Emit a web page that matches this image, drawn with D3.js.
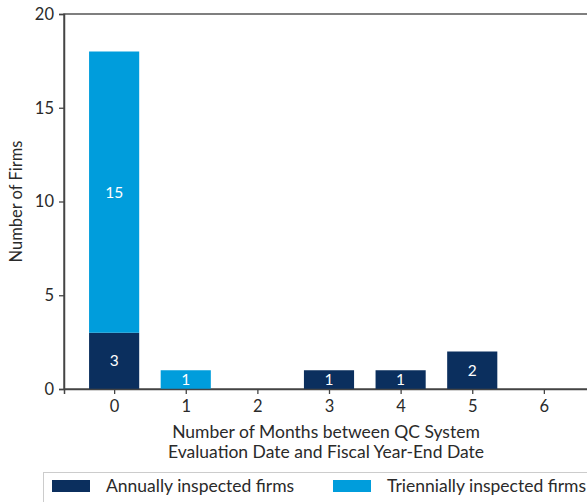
<!DOCTYPE html>
<html><head><meta charset="utf-8">
<script src="https://cdn.jsdelivr.net/npm/d3@7"></script>
<style>
body{margin:0;background:#fff;}
svg text{font-family:Lato,"Open Sans",sans-serif;fill:#2a2a2a;}
</style></head>
<body><svg id="c" width="587" height="502"></svg>
<script>
const months = [0,1,2,3,4,5,6];
const annually = [3,0,0,1,1,2,0];
const triennially = [15,1,0,0,0,0,0];
const yTicks = [0,5,10,15,20];
const seriesNames = ["Annually inspected firms","Triennially inspected firms"];
const colors = ["#0b2f5e","#009ddc"];

const svg = d3.select("#c");
const L=64,T=14,R=594,B=389;
const x = d3.scaleLinear().domain([-0.7,6.7]).range([L,R]);
const y = d3.scaleLinear().domain([0,20]).range([B,T]);
const bw = x(0.35)-x(-0.35);

const data = months.map((m,i)=>({m, a:annually[i], t:triennially[i]}));
const stack = d3.stack().keys(["a","t"])(data);

svg.append("rect").attr("x",L).attr("y",T).attr("width",R-L).attr("height",B-T)
  .attr("fill","none").attr("stroke","#555").attr("stroke-width",1.5);

stack.forEach((s,si)=>{
  svg.append("g").selectAll("rect").data(s.filter(d=>d[1]-d[0]>0)).join("rect")
    .attr("x",d=>x(d.data.m)-bw/2).attr("width",bw)
    .attr("y",d=>y(d[1])).attr("height",d=>y(d[0])-y(d[1]))
    .attr("fill",colors[si]);
  svg.append("g").selectAll("text").data(s.filter(d=>d[1]-d[0]>0)).join("text")
    .attr("x",d=>x(d.data.m)).attr("y",d=>(y(d[0])+y(d[1]))/2)
    .attr("dy","0.35em").attr("text-anchor","middle")
    .style("fill","#fff").style("font-size","15.5px")
    .text(d=>d[1]-d[0]);
});

const xa = svg.append("g").attr("transform",`translate(0,${B})`)
  .call(d3.axisBottom(x).tickValues(months).tickFormat(d3.format("d")).tickSize(5).tickPadding(6));
const ya = svg.append("g").attr("transform",`translate(${L},0)`)
  .call(d3.axisLeft(y).tickValues(yTicks).tickSize(5).tickPadding(5));
[xa,ya].forEach(a=>{
  a.select(".domain").attr("stroke","#444").attr("stroke-width",1.5);
  a.selectAll(".tick line").attr("stroke","#444").attr("stroke-width",1.3);
  a.selectAll(".tick text").style("font-size","16.5px").style("fill","#2a2a2a");
});

svg.append("text").attr("x",(L+R)/2-3).attr("y",438).attr("text-anchor","middle")
  .style("font-size","17.5px").text("Number of Months between QC System");
svg.append("text").attr("x",(L+R)/2-3).attr("y",458).attr("text-anchor","middle")
  .style("font-size","17.5px").text("Evaluation Date and Fiscal Year-End Date");
svg.append("text").attr("transform",`translate(22,${(T+B)/2}) rotate(-90)`)
  .attr("text-anchor","middle").style("font-size","16.5px").text("Number of Firms");

svg.append("rect").attr("x",43.5).attr("y",472.5).attr("width",600).attr("height",60)
  .attr("fill","#fff").attr("stroke","#ccc").attr("stroke-width",1);
const lx=[52,333];
seriesNames.forEach((n,i)=>{
  svg.append("rect").attr("x",lx[i]).attr("y",480).attr("width",38).attr("height",12).attr("fill",colors[i]);
  svg.append("text").attr("x",lx[i]+54).attr("y",492).style("font-size","17.5px").text(n);
});
</script></body></html>
